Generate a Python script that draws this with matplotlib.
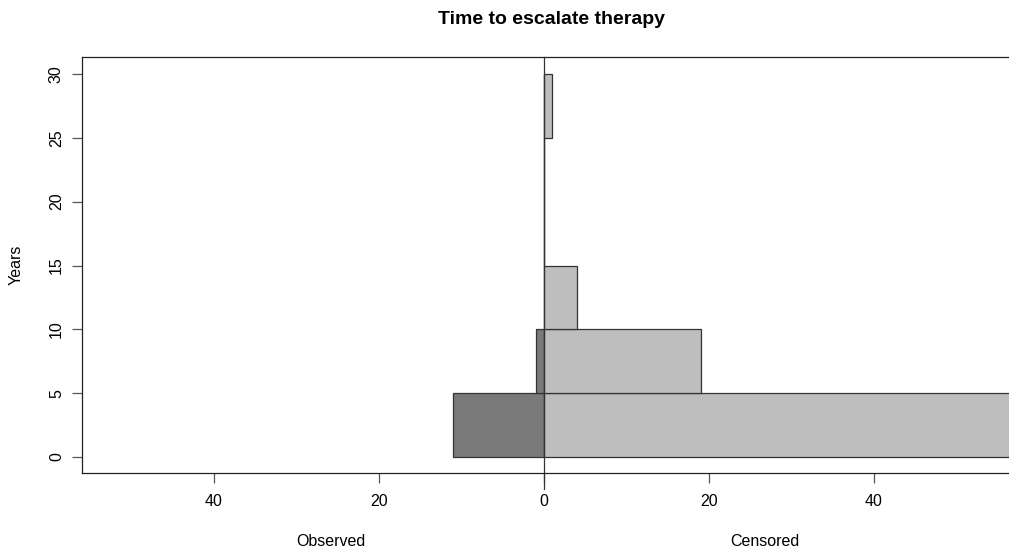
import matplotlib
matplotlib.use("Agg")
import matplotlib.pyplot as plt
import numpy as np

plt.rcParams['font.family'] = ['Liberation Sans', 'DejaVu Sans']

# 5-year bins of time (years)
bin_starts = [0, 5, 10, 15, 20, 25]
bin_width = 5
observed = [11, 1, 0, 0, 0, 0]
censored = [62, 19, 4, 0, 0, 1]

fig = plt.figure(figsize=(10.09, 5.51), dpi=100)
ax = fig.add_axes([82 / 1009, 1 - 473 / 551, 1 - 82 / 1009, (473 - 57) / 551])

# observed counts go to the left, censored to the right
ax.barh(bin_starts, [-v for v in observed], height=bin_width, align='edge',
        color='#7a7a7a', edgecolor='#333333', linewidth=0.9)
ax.barh(bin_starts, censored, height=bin_width, align='edge',
        color='#bebebe', edgecolor='#333333', linewidth=0.9)
ax.plot([0, 0], [-2.5, 31.33], color='#333333', linewidth=0.9, clip_on=False)

ax.set_xlim(-56, 56.36)
ax.set_ylim(-1.25, 31.33)

xt = [-40, -20, 0, 20, 40]
ax.set_xticks(xt)
ax.set_xticklabels([str(abs(v)) for v in xt])
ax.set_yticks([0, 5, 10, 15, 20, 25, 30])
ax.tick_params(axis='y', labelrotation=90, length=7, width=0.9, color='#555555',
               labelsize=11.5, pad=6)
ax.tick_params(axis='x', length=7, width=0.9, color='#555555', labelsize=11.5, pad=8)
for lab in ax.get_yticklabels():
    lab.set_va('center')

for s in ['left', 'top', 'bottom']:
    ax.spines[s].set_linewidth(0.9)
    ax.spines[s].set_color('#222222')
ax.spines['right'].set_visible(False)

fig.text(552 / 1009, 1 - 19 / 551, 'Time to escalate therapy', ha='center',
         va='center', fontsize=14, fontweight='bold')
fig.text(16 / 1009, 1 - 265 / 551, 'Years', ha='center', va='center',
         rotation=90, fontsize=11.5)
fig.text(331 / 1009, 1 - 542 / 551, 'Observed', ha='center', va='center', fontsize=11.5)
fig.text(765 / 1009, 1 - 542 / 551, 'Censored', ha='center', va='center', fontsize=11.5)

fig.savefig('out.png', dpi=100)
